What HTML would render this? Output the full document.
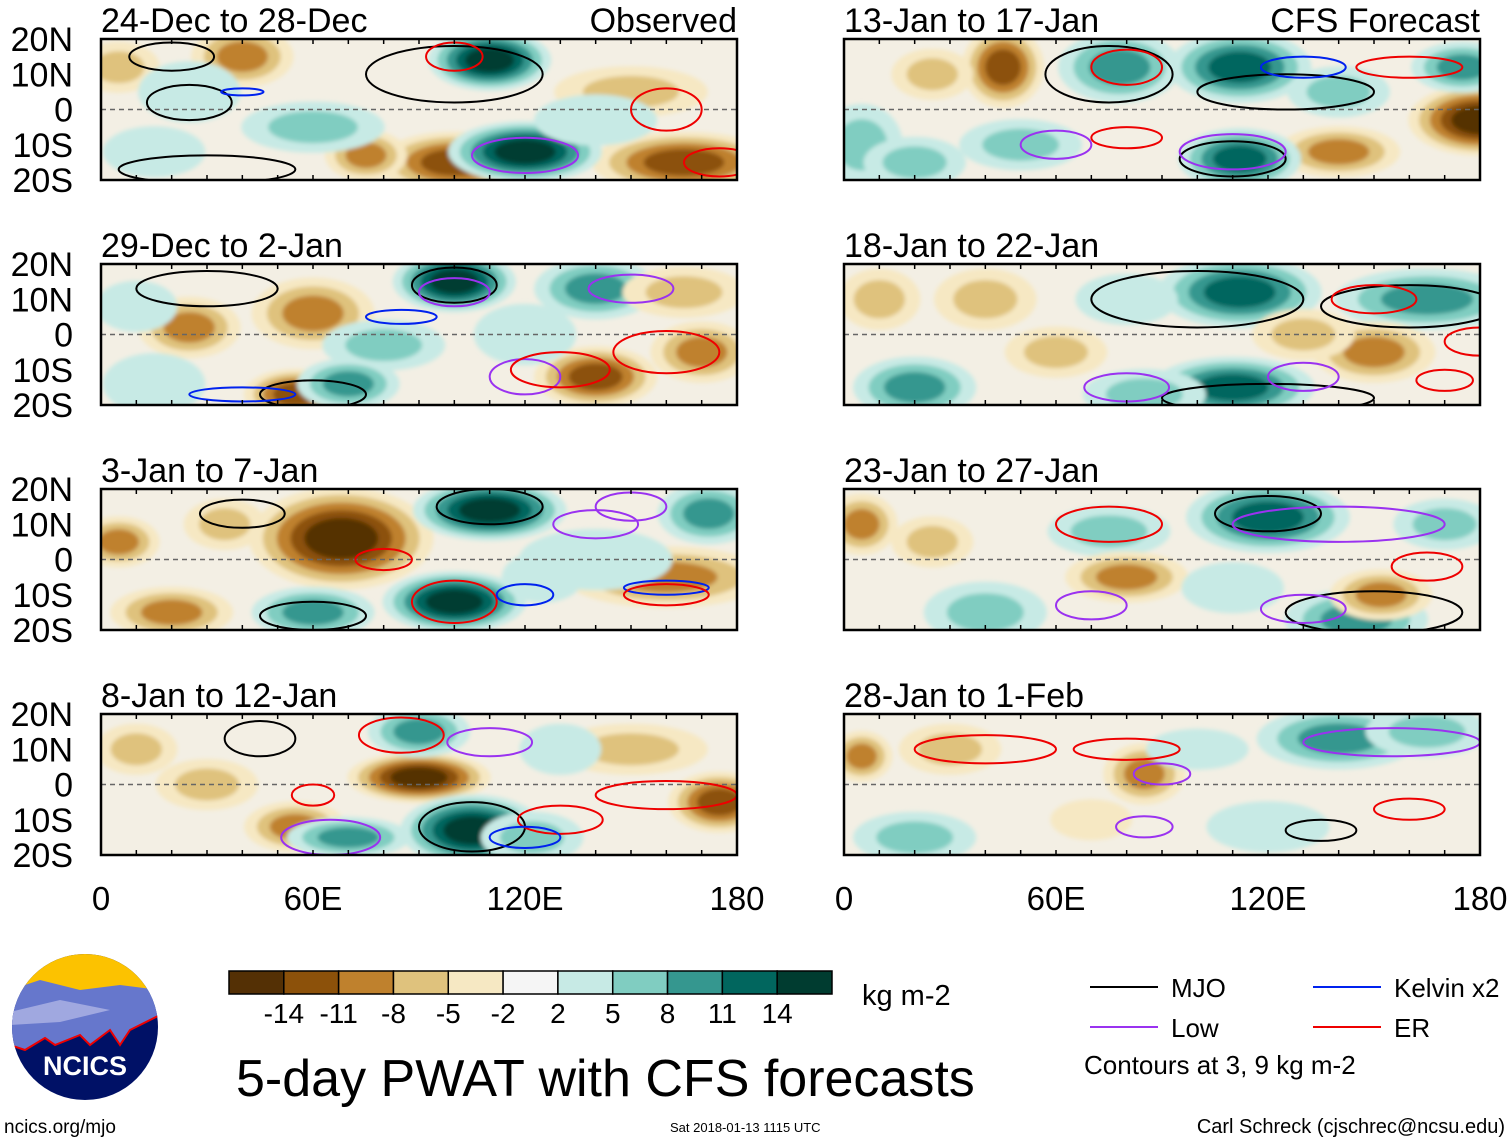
<!DOCTYPE html>
<html><head><meta charset="utf-8">
<style>
html,body{margin:0;padding:0;background:#fff;}
svg{display:block;font-family:"Liberation Sans",sans-serif;}
</style></head>
<body>
<svg id="chart" width="1510" height="1142" viewBox="0 0 1510 1142">
<defs>
<filter id="soft" x="-20%" y="-20%" width="140%" height="140%"><feGaussianBlur stdDeviation="2"/></filter>
</defs>
<g id="panels"></g>
<g id="legend"></g>
</svg>
<script>
// ---- data ----
const panelTitles = ["24-Dec to 28-Dec","29-Dec to 2-Jan","3-Jan to 7-Jan","8-Jan to 12-Jan","13-Jan to 17-Jan","18-Jan to 22-Jan","23-Jan to 27-Jan","28-Jan to 1-Feb"];
const levels = [-14,-11,-8,-5,-2,2,5,8,11,14];
const levelLabels = ["-14","-11","-8","-5","-2","2","5","8","11","14"];
const binColors = ["#543005","#8c510a","#bf812d","#dfc27d","#f6e8c3","#f5f5f5","#c7eae5","#80cdc1","#35978f","#01665e","#003c30"];
const latTicks = [20,10,0,-10,-20];
const latLabels = ["20N","10N","0","10S","20S"];
const lonTicks = [0,60,120,180];
const lonLabels = ["0","60E","120E","180"];
// anomaly blobs per panel: [lon, lat, halfWidthDeg, halfHeightDeg, peakValue]
const blobs0 = [[40,15,10,6,-10],[100,-15,15,6,-11],[165,-15,18,6,-13],[75,-13,8,5,-9],[110,14,12,6,15],[120,-12,15,6,15],[60,-5,14,5,6],[15,-12,10,5,5],[5,12,8,5,-6],[150,5,15,5,-5],[25,5,10,6,4],[140,-3,12,5,4]];
const blobs1 = [[100,15,12,6,15],[25,2,10,6,-8],[60,6,12,7,-10],[55,-17,10,5,-12],[140,-12,12,6,-11],[170,-5,10,6,-10],[80,-3,12,5,7],[70,-14,10,5,9],[140,13,12,6,9],[15,-14,10,6,5],[120,0,10,6,5],[165,12,12,5,-5],[10,8,8,5,5]];
const blobs2 = [[68,6,18,10,-14],[20,-15,12,5,-10],[160,-5,20,6,-10],[5,5,8,5,-8],[110,14,15,6,15],[100,-12,14,6,15],[172,13,10,6,10],[60,-15,12,5,9],[140,0,15,6,5],[35,10,8,5,-6],[125,-5,8,5,5]];
const blobs3 = [[90,2,14,5,-14],[55,-12,10,5,-8],[175,-5,10,6,-12],[105,-13,14,7,15],[90,15,10,5,9],[122,-15,10,5,7],[70,-15,12,4,9],[30,0,10,5,-6],[150,10,15,5,-5],[10,10,8,5,-5],[130,10,8,5,5]];
const blobs4 = [[45,12,8,8,-12],[180,-3,14,7,-14],[140,-12,12,5,-10],[78,12,12,7,11],[112,12,14,7,12],[175,12,10,5,9],[112,-14,12,6,14],[5,-10,8,8,8],[50,-10,12,5,7],[20,-15,10,5,8],[140,5,10,5,6],[25,10,8,5,-6]];
const blobs5 = [[112,12,16,7,13],[165,10,18,6,11],[110,-15,16,6,13],[20,-15,12,6,9],[85,-17,12,5,8],[150,-5,12,6,-10],[40,10,10,6,-7],[10,10,8,6,-6],[60,-5,10,5,-5],[130,0,10,5,-5],[80,10,10,5,5]];
const blobs6 = [[120,12,16,7,12],[145,-17,14,6,11],[75,8,12,5,8],[40,-15,12,6,8],[80,-5,12,5,-9],[152,-10,10,5,-9],[5,10,7,6,-9],[170,10,10,5,7],[110,-8,10,5,5],[25,5,8,5,-5]];
const blobs7 = [[140,13,16,6,9],[165,15,12,5,8],[20,-15,12,5,7],[5,8,6,5,-10],[85,3,8,6,-8],[70,-10,8,4,-4],[120,-12,12,5,5],[30,10,10,5,-5],[100,10,10,4,4]];
const allBlobs = [blobs0,blobs1,blobs2,blobs3,blobs4,blobs5,blobs6,blobs7];
// contours per panel: [lon, lat, halfWidthDeg, halfHeightDeg, type]  type: 0 MJO,1 Low,2 Kelvin,3 ER
const cont0 = [[20,15,12,4,0],[25,2,12,5,0],[100,10,25,8,0],[30,-17,25,4,0],[120,-13,15,5,1],[100,15,8,4,3],[160,0,10,6,3],[175,-15,10,4,3],[40,5,6,1,2]];
const cont1 = [[30,13,20,5,0],[100,14,12,5,0],[60,-17,15,4,0],[100,12,10,4,1],[150,13,12,4,1],[120,-12,10,5,1],[85,5,10,2,2],[40,-17,15,2,2],[130,-10,14,5,3],[160,-5,15,6,3]];
const cont2 = [[40,13,12,4,0],[110,15,15,5,0],[60,-16,15,4,0],[100,-12,12,6,3],[150,15,10,4,1],[140,10,12,4,1],[80,0,8,3,3],[160,-8,12,2,2],[120,-10,8,3,2],[160,-10,12,3,3]];
const cont3 = [[45,13,10,5,0],[105,-12,15,7,0],[85,14,12,5,3],[110,12,12,4,1],[65,-15,14,5,1],[60,-3,6,3,3],[160,-3,20,4,3],[130,-10,12,4,3],[120,-15,10,3,2]];
const cont4 = [[75,10,18,8,0],[125,5,25,5,0],[110,-14,15,5,0],[80,12,10,5,3],[130,12,12,3,2],[160,12,15,3,3],[110,-12,15,5,1],[60,-10,10,4,1],[80,-8,10,3,3]];
const cont5 = [[100,10,30,8,0],[160,8,25,6,0],[120,-18,30,4,0],[150,10,12,4,3],[80,-15,12,4,1],[130,-12,10,4,1],[170,-13,8,3,3],[180,-2,10,4,3]];
const cont6 = [[120,13,15,5,0],[150,-15,25,6,0],[75,10,15,5,3],[140,10,30,5,1],[70,-13,10,4,1],[130,-14,12,4,1],[165,-2,10,4,3]];
const cont7 = [[40,10,20,4,3],[80,10,15,3,3],[155,12,25,4,1],[90,3,8,3,1],[85,-12,8,3,1],[135,-13,10,3,0],[160,-7,10,3,3]];
const allConts = [cont0,cont1,cont2,cont3,cont4,cont5,cont6,cont7];
const contColors = ["#000","#9a32f0","#0022ee","#ee0000"];

const NS = "http://www.w3.org/2000/svg";
function mk(tag, attrs, parent){const e=document.createElementNS(NS,tag);for(const k in attrs)e.setAttribute(k,attrs[k]);parent.appendChild(e);return e;}
const panelX = [101,101,101,101,844,844,844,844];
const panelY = [39,264,489,714,39,264,489,714];
const PW = 636, PH = 141;
function binIndex(v){let i=0;while(i<levels.length && v>levels[i])i++;return i;}
const root = document.getElementById("panels");
const defs = document.querySelector("defs");

for(let p=0;p<8;p++){
  const x0=panelX[p], y0=panelY[p];
  const xs = lon => x0 + lon/180*PW;
  const ys = lat => y0 + (20-lat)/40*PH;
  const cp = mk("clipPath",{id:"clip"+p},defs);
  mk("rect",{x:x0,y:y0,width:PW,height:PH},cp);
  const g = mk("g",{"clip-path":"url(#clip"+p+")"},root);
  
  
  mk("rect",{x:x0,y:y0,width:PW,height:PH,fill:"#f3efe4"},g);
  const fg = mk("g",{filter:"url(#soft)"},g);
  for(const b of allBlobs[p]){
    const [lon,lat,rw,rh,val]=b;
    const target=binIndex(val), mid=5;
    const steps=[];
    if(val<0){for(let i=mid-1;i>=target;i--)steps.push(i);} else {for(let i=mid+1;i<=target;i++)steps.push(i);}
    steps.forEach((ci,k)=>{
      const s=1.45*(1-0.75*k/steps.length);
      const e=mk("ellipse",{cx:xs(lon),cy:ys(lat),rx:rw/180*PW*s,ry:rh/40*PH*s,fill:binColors[ci]},fg);
      
      
    });
  }
  mk("line",{x1:x0,y1:ys(0),x2:x0+PW,y2:ys(0),stroke:"#666","stroke-width":1.5,"stroke-dasharray":"5,4"},g);
  for(const c of allConts[p]){
    const e=mk("ellipse",{cx:xs(c[0]),cy:ys(c[1]),rx:c[2]/180*PW,ry:c[3]/40*PH,fill:"none",stroke:contColors[c[4]],"stroke-width":2},g);
    
    
  }
  const fr=mk("rect",{x:x0,y:y0,width:PW,height:PH,fill:"none",stroke:"#000","stroke-width":2.5},root);
  
  
  for(let l=0;l<=180;l+=10){mk("line",{x1:xs(l),y1:y0,x2:xs(l),y2:y0+5,stroke:"#000","stroke-width":1.5},root);mk("line",{x1:xs(l),y1:y0+PH,x2:xs(l),y2:y0+PH-5,stroke:"#000","stroke-width":1.5},root);}
  const t=mk("text",{x:x0,y:y0-7,"font-size":34},root);t.textContent=panelTitles[p];
  
  
  if(p<4){
    latTicks.forEach((lt,i)=>{const tt=mk("text",{x:73,y:ys(lt)+12,"font-size":34,"text-anchor":"end"},root);tt.textContent=latLabels[i];
      
      });
  }
  if(p===0||p===4){
    const s=mk("text",{x:x0+PW,y:y0-7,"font-size":34,"text-anchor":"end"},root);s.textContent=p===0?"Observed":"CFS Forecast";
    
    
  }
  if(p===3||p===7){
    lonTicks.forEach((ln,i)=>{const tt=mk("text",{x:xs(ln),y:910,"font-size":33,"text-anchor":"middle"},root);tt.textContent=lonLabels[i];
      
      });
  }
}

// colorbar & legend
const lg=document.getElementById("legend");
const cbx=229, cbw=603/11;
binColors.forEach((c,i)=>{const r=mk("rect",{x:cbx+i*cbw,y:971,width:cbw,height:23,fill:c,stroke:"#000","stroke-width":1.5},lg);
  
  });
levelLabels.forEach((l,i)=>{const t=mk("text",{x:cbx+(i+1)*cbw,y:1023,"font-size":28,"text-anchor":"middle"},lg);t.textContent=l;
  
  });
const items=[["MJO",0,1090,987],["Low",1,1090,1027],["Kelvin x2",2,1313,987],["ER",3,1313,1027]];
items.forEach(it=>{mk("line",{x1:it[2],y1:it[3],x2:it[2]+68,y2:it[3],stroke:contColors[it[1]],"stroke-width":2},lg);
  const t=mk("text",{x:it[2]+81,y:it[3]+10,"font-size":26},lg);t.textContent=it[0];
  
  });
</script>
<svg style="position:absolute;left:0;top:0" width="1510" height="1142">
<text x="862" y="1005" font-size="29" font-family="Liberation Sans,sans-serif">kg m-2</text>
<text x="1084" y="1074" font-size="26" font-family="Liberation Sans,sans-serif">Contours at 3, 9 kg m-2</text>
<text x="236" y="1096" font-size="52" font-family="Liberation Sans,sans-serif">5-day PWAT with CFS forecasts</text>
<text x="4" y="1133" font-size="19" font-family="Liberation Sans,sans-serif">ncics.org/mjo</text>
<text x="670" y="1132" font-size="13" font-family="Liberation Sans,sans-serif">Sat 2018-01-13 1115 UTC</text>
<text x="1505" y="1133" font-size="20" text-anchor="end" font-family="Liberation Sans,sans-serif">Carl Schreck (cjschrec@ncsu.edu)</text>
<g>
<clipPath id="lc"><circle cx="85" cy="1027" r="73"/></clipPath>
<g clip-path="url(#lc)">
<rect x="10" y="950" width="150" height="160" fill="#001166"/>
<rect x="10" y="950" width="150" height="40" fill="#fcc200"/>
<path d="M10 990 L40 980 L80 990 L120 985 L160 990 L160 1015 L130 1030 L120 1045 L110 1030 L90 1045 L80 1035 L55 1045 L45 1038 L25 1050 L10 1045 Z" fill="#6677cc"/>
<path d="M10 1012 L60 1000 L110 1010 L60 1022 L10 1025 Z" fill="#a0a8e0"/>
<path d="M10 1045 L25 1050 L45 1038 L55 1045 L80 1035 L90 1045 L110 1030 L120 1045 L130 1030 L160 1015" fill="none" stroke="#e00" stroke-width="2"/>
</g>
<text x="85" y="1075" font-size="27" font-weight="bold" fill="#fff" text-anchor="middle" font-family="Liberation Sans,sans-serif">NCICS</text>
</g>
</svg>
</body></html>
